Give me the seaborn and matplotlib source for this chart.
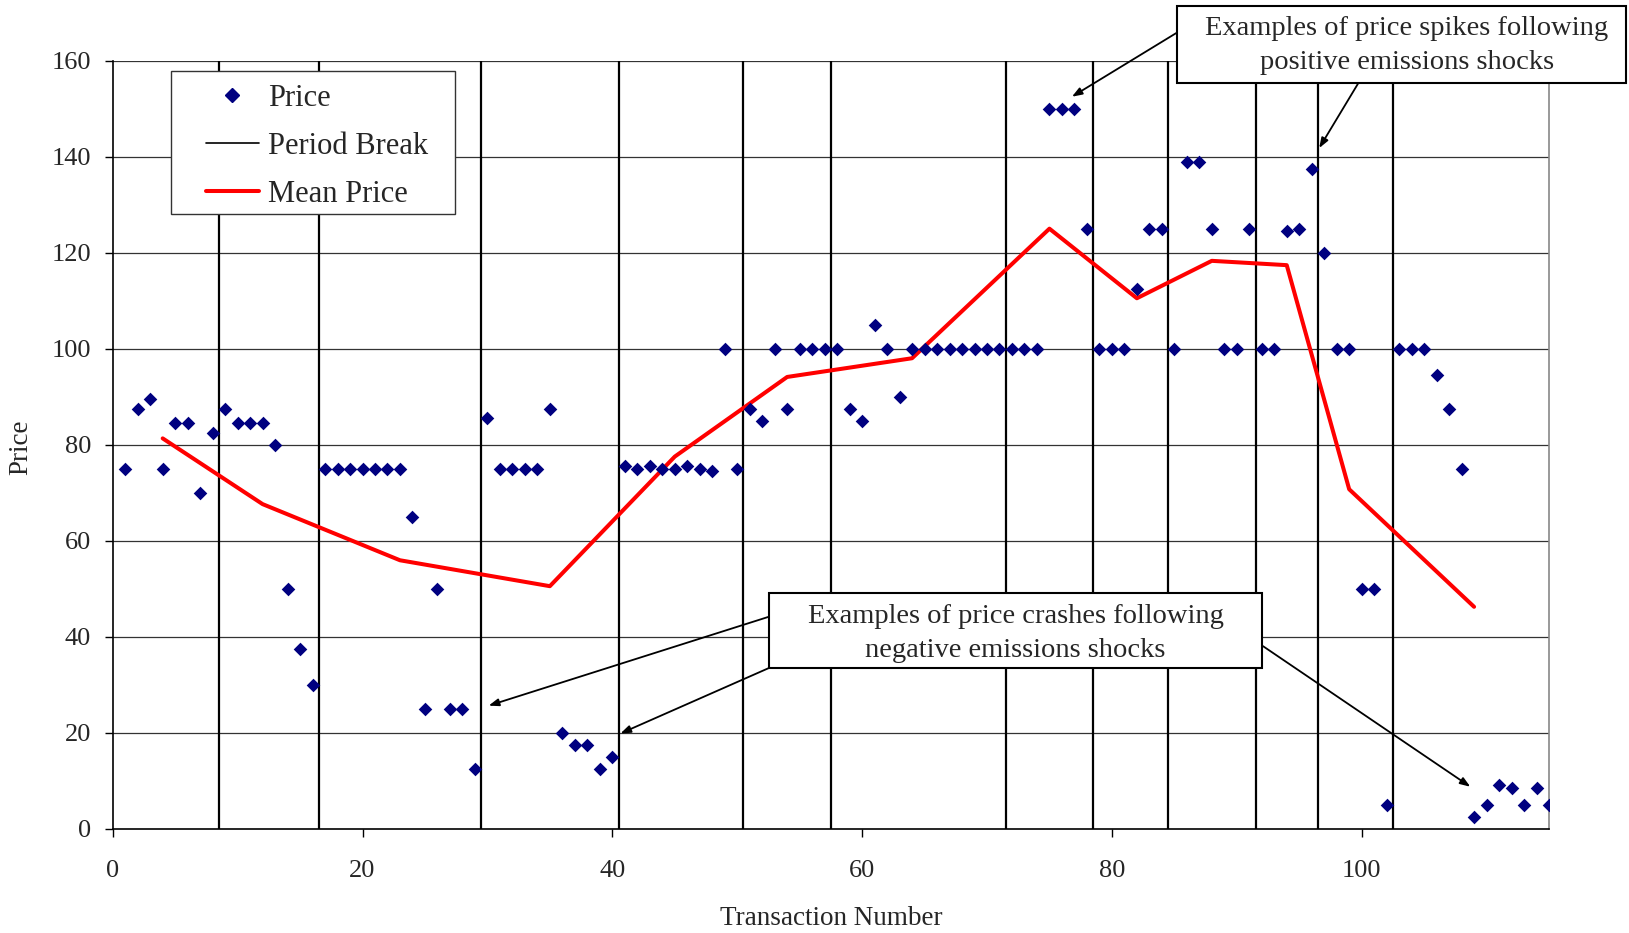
import matplotlib
matplotlib.use("Agg")
import matplotlib.pyplot as plt
import matplotlib.patches as mpatches
from matplotlib.lines import Line2D
import seaborn as sns
import pandas as pd

# transaction prices
transaction = list(range(1, 116))
price = [75, 87.5, 89.5, 75, 84.5, 84.5, 70, 82.5, 87.5, 84.5,
         84.5, 84.5, 80, 50, 37.5, 30, 75, 75, 75, 75,
         75, 75, 75, 65, 25, 50, 25, 25, 12.5, 85.5,
         75, 75, 75, 75, 87.5, 20, 17.5, 17.5, 12.5, 15,
         75.5, 75, 75.5, 75, 75, 75.5, 75, 74.5, 100, 75,
         87.5, 85, 100, 87.5, 100, 100, 100, 100, 87.5, 85,
         105, 100, 90, 100, 100, 100, 100, 100, 100, 100,
         100, 100, 100, 100, 150, 150, 150, 125, 100, 100,
         100, 112.5, 125, 125, 100, 139, 139, 125, 100, 100,
         125, 100, 100, 124.5, 125, 137.5, 120, 100, 100, 50,
         50, 5, 100, 100, 100, 94.5, 87.5, 75, 2.5, 5,
         9, 8.5, 5, 8.5, 5]

# mean price per period
mean_x = [4, 12, 23, 35, 45, 54, 64, 75, 82, 88, 94, 99, 109]
mean_price = [81.3, 67.6, 55.9, 50.5, 77.5, 94.1, 98.0, 125.0, 110.5, 118.3, 117.4, 70.7, 46.2]

# period breaks
period_breaks = [8.5, 16.5, 29.5, 40.5, 50.5, 57.5, 71.5, 78.5, 84.5, 91.5, 96.5, 102.5]

df = pd.DataFrame({"Transaction": transaction, "Price": price})
mean_df = pd.DataFrame({"Transaction": mean_x, "Mean": mean_price})

sns.set_style("white")
plt.rcParams["font.family"] = ["Liberation Serif", "DejaVu Serif"]

fig = plt.figure(figsize=(16.29, 9.33), dpi=100)
ax = fig.add_subplot(111)
fig.subplots_adjust(left=0.0692, right=0.9509, bottom=0.112, top=0.9349)

# horizontal grid
for yv in range(20, 161, 20):
    ax.axhline(yv, color="#333333", lw=0.9, zorder=1)

for xb in period_breaks:
    ax.axvline(xb, color="black", lw=1.6, zorder=2)

sns.lineplot(data=mean_df, x="Transaction", y="Mean", color="#FF0000", lw=2.9,
             ax=ax, zorder=3)
sns.scatterplot(data=df, x="Transaction", y="Price", marker="D", s=48,
                color="#000080", linewidth=0, ax=ax, zorder=4)

ax.set_xlim(0, 115)
ax.set_ylim(0, 160)
ax.set_xticks([0, 20, 40, 60, 80, 100])
ax.set_yticks(range(0, 161, 20))
ax.tick_params(axis="both", labelsize=19, direction="out", length=5.5, width=1,
               color="black", left=True, bottom=True)
ax.tick_params(axis="y", pad=10)
ax.tick_params(axis="x", pad=17)

for side in ["left", "bottom"]:
    ax.spines[side].set_color("black")
    ax.spines[side].set_linewidth(1.2)
ax.spines["top"].set_visible(False)
ax.spines["right"].set_color("#888888")
ax.spines["right"].set_linewidth(1.2)

ax.set_xlabel("Transaction Number", fontsize=19.5)
ax.set_ylabel("Price", fontsize=19.5)
ax.xaxis.set_label_coords(0.5, -0.1015)
ax.yaxis.set_label_coords(-0.055, 0.497)

# legend: frame drawn separately so the padding matches
leg_frame = mpatches.Rectangle((0.0406, 0.8003), 0.1977, 0.1863, transform=ax.transAxes,
                               facecolor="white", edgecolor="#333333", lw=1.0, zorder=5)
ax.add_patch(leg_frame)
handles = [
    Line2D([], [], marker="D", color="#000080", linestyle="none", markersize=7),
    Line2D([], [], color="black", lw=1.2),
    Line2D([], [], color="#FF0000", lw=2.9),
]
leg = ax.legend(handles, ["Price", "Period Break", "Mean Price"], loc="upper left",
                bbox_to_anchor=(0.0647, 0.9700), borderaxespad=0, borderpad=0,
                fontsize=22, frameon=False, handlelength=1.75, handletextpad=0.3,
                labelspacing=0.62)
leg.set_zorder(6)

# annotation boxes
box_spikes = mpatches.Rectangle((0.7223, 0.9114), 0.2758, 0.0822, transform=fig.transFigure,
                                facecolor="white", edgecolor="black", lw=1.5, zorder=10)
box_crashes = mpatches.Rectangle((0.4721, 0.2837), 0.3028, 0.0804, transform=fig.transFigure,
                                 facecolor="white", edgecolor="black", lw=1.5, zorder=10)
fig.patches.extend([box_spikes, box_crashes])
fig.text(0.8635, 0.9516, "Examples of price spikes following\npositive emissions shocks",
         ha="center", va="center", fontsize=20.5, linespacing=1.48, zorder=11)
fig.text(0.6235, 0.3212, "Examples of price crashes following\nnegative emissions shocks",
         ha="center", va="center", fontsize=20.5, linespacing=1.48, zorder=11)

arrow_kw = dict(arrowstyle="-|>,head_length=0.6,head_width=0.22", color="black", lw=1.3,
                shrinkA=0, shrinkB=0)
arrows = [
    ((85.3, 166.0), (76.8, 152.5)),
    ((99.7, 155.2), (96.6, 141.8)),
    ((52.5, 44.1), (30.1, 25.6)),
    ((52.5, 33.4), (40.65, 19.8)),
    ((92.1, 38.0), (108.7, 8.7)),
]
for start, end in arrows:
    ax.annotate("", xy=end, xytext=start, arrowprops=arrow_kw, annotation_clip=False,
                zorder=9)

fig.savefig("out.png", dpi=100)
